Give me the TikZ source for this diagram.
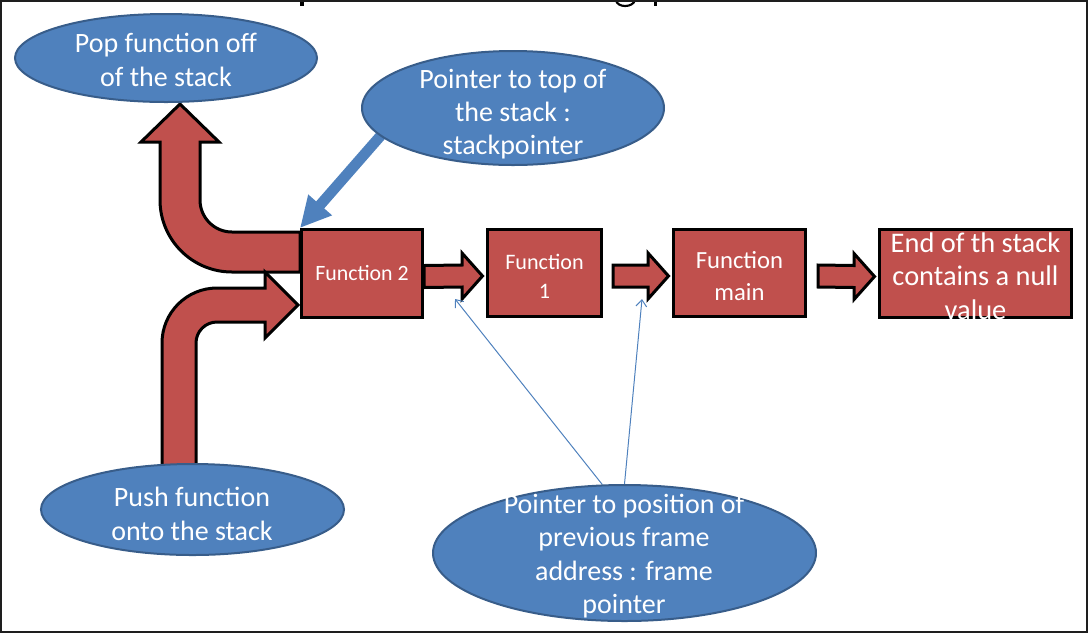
\documentclass[tikz,border=0pt]{standalone}
\usepackage{fontspec}
\setmainfont{Carlito}
\usetikzlibrary{shapes.geometric,arrows.meta,calc,backgrounds}
\definecolor{boxred}{HTML}{C0504D}
\definecolor{bubblue}{HTML}{4F81BD}
\definecolor{bubedge}{HTML}{385D8A}
\definecolor{framegray}{HTML}{1E1E1E}
\tikzset{
  fbox/.style={draw=black, line width=2.25pt, fill=boxred, rectangle, inner sep=0pt, text=white, align=center},
  bubble/.style={draw=bubedge, line width=1.5pt, fill=bubblue, ellipse, inner sep=0pt},
  wtext/.style={text=white, align=center, inner sep=0pt, font=\fontsize{21}{25}\selectfont},
  blockarr/.style={draw=black, line width=2.25pt, fill=boxred, line join=miter},
  bigarrow/.style={draw=bubblue, line width=8pt, -{Triangle[length=23pt,width=22pt]}},
  thinarrow/.style={draw=bubblue, line width=0.75pt, -{Straight Barb[length=5pt,width=8pt]}},
}
\newcommand{\mkblockarrow}[2]{%
  \draw[blockarr] ($(#1)+(0,-8)$) -- ($(#2)+(-24,-8)$) -- ($(#2)+(-24,-20)$)
    -- ($(#2)+(-3.5,3)$) -- ($(#2)+(-24,26)$) -- ($(#2)+(-24,14)$)
    -- ($(#1)+(0,14)$) -- cycle;}
\begin{document}
\begin{tikzpicture}[x=0.75pt,y=-0.75pt]
\useasboundingbox (0,0) rectangle (1088,633);

% boxes
\node[fbox, minimum width=90.75pt, minimum height=66pt, font=\fontsize{16.4}{19}\selectfont] (f2) at (362,273.5) {Function 2};
\node[fbox, minimum width=85.5pt, minimum height=65.25pt, font=\fontsize{16.6}{21.75}\selectfont] (f1) at (544.5,273) {};
\node[wtext, font=\fontsize{16.6}{21.75}\selectfont] (f1t) at (544.5,276) {Function\\1};
\node[fbox, minimum width=99pt, minimum height=65.25pt] (fm) at (739.5,273) {};
\node[wtext, font=\fontsize{18.5}{24}\selectfont] (fmt) at (739.5,276) {Function\\main};
\node[fbox, minimum width=144pt, minimum height=66pt] (fe) at (975.5,273.5) {};
\node[wtext, font=\fontsize{21.3}{25}\selectfont] (fet) at (975.5,276) {End of th stack\\contains a null\\value};

% bubbles
\node[bubble, minimum width=226.5pt, minimum height=66pt] (pop) at (166,58) {};
\node[wtext] (popt) at (166,60) {Pop function off\\of the stack};
\node[bubble, minimum width=226.5pt, minimum height=85.5pt] (sp) at (513,108) {};
\node[wtext] (spt) at (513,114) {Pointer to top of\\the stack :\\stackpointer};
\node[bubble, minimum width=227.25pt, minimum height=68.25pt] (push) at (192.5,509.5) {};
\node[wtext] (pusht) at (192,514) {Push function\\onto the stack};
\node[bubble, minimum width=287.25pt, minimum height=102pt] (fp) at (624.5,553) {};
\node[wtext] (fpt) at (624,556) {Pointer to position of\\previous frame\\address : frame\\pointer};

\coordinate (fpa) at (455,299);
\coordinate (fpb) at (642,299);
\coordinate (a1s) at (f2.east);
\coordinate (a2s) at ($(f1.east)+(10,0)$);
\coordinate (a3s) at ($(fm.east)+(11,0)$);

\begin{scope}[on background layer]
  % pop (bent up) arrow
  \draw[blockarr] (300,232) -- (232,232) .. controls (214.3,232) and (200,217.7) .. (200,200)
    -- (200,142) -- (219,142) -- (180,104) -- (141,142) -- (160,142) -- (160,200)
    .. controls (160,239.8) and (192.2,272) .. (232,272) -- (300,272) -- cycle;
  % push (bent right) arrow
  \draw[blockarr] (162,480) -- (162,343) .. controls (162,312.6) and (186.6,288) .. (217,288)
    -- (265,288) -- (265,272) -- (298,305) -- (265,338) -- (265,322) -- (217,322)
    .. controls (205.4,322) and (196,331.4) .. (196,343) -- (196,480) -- cycle;
  % straight block arrows
  \mkblockarrow{a1s}{f1.west}
  \mkblockarrow{a2s}{fm.west}
  \mkblockarrow{a3s}{fe.west}
  % stack pointer arrow
  \draw[bigarrow] ($(f2.north west)!1.1!(sp.192)$) -- (f2.north west);
  % frame pointer arrows
  \draw[thinarrow] (fp.108) -- (fpa);
  \draw[thinarrow] (fp.north) -- (fpb);
\end{scope}

% cut-off title fragments
\fill (300,0) rectangle (304,6);
\draw[line width=1.6pt] (616,0) .. controls (617,8) and (633,8) .. (635,0);
\fill (654,0) rectangle (657,6);

% frame
\draw[framegray, line width=1.5pt] (1,1) rectangle (1087,632);
\end{tikzpicture}
\end{document}
